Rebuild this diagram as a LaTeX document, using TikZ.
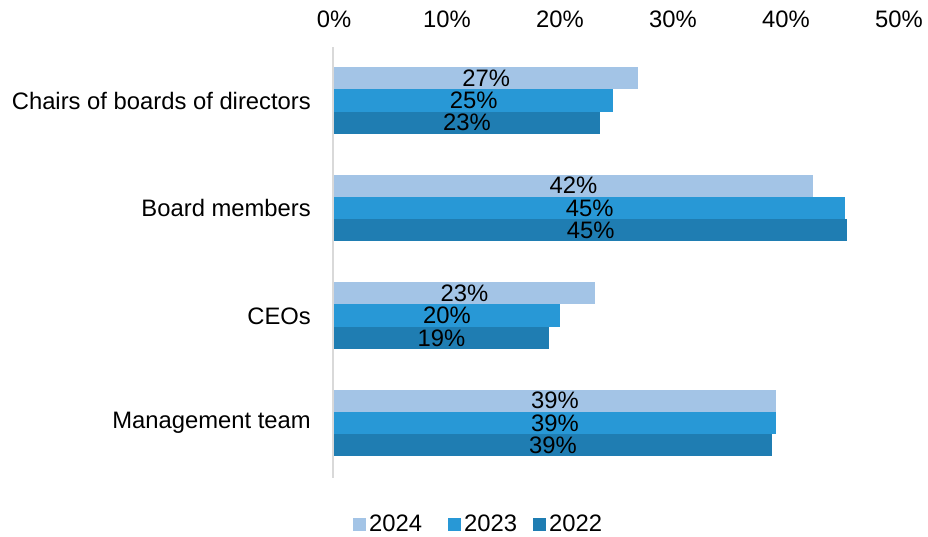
\documentclass[tikz,border=0pt]{standalone}
\usepackage{fontspec}
\setmainfont{Liberation Sans}
\usepackage[dvipsnames]{xcolor}
\usepackage{tikz}
\definecolor{c2024}{RGB}{163,196,230}
\definecolor{c2023}{RGB}{40,152,214}
\definecolor{c2022}{RGB}{31,125,178}
\definecolor{axisgray}{RGB}{217,217,217}

\begin{document}
\begin{tikzpicture}[x=1pt,y=-1pt,font=\fontsize{23.8}{28}\selectfont]
  \tikzstyle{bar}=[anchor=west, inner sep=0pt, minimum height=22.3pt]
  \tikzstyle{b24}=[bar, fill=c2024]
  \tikzstyle{b23}=[bar, fill=c2023]
  \tikzstyle{b22}=[bar, fill=c2022]
  \tikzstyle{cat}=[anchor=east, inner sep=0pt]
  \tikzstyle{tick}=[inner sep=0pt]
  \useasboundingbox (0,0) rectangle (928,536);

  % top axis labels
  \node[tick] (T_0) at (334,19) {0\%};
  \node[tick] (T_1) at (447,19) {10\%};
  \node[tick] (T_2) at (560,19) {20\%};
  \node[tick] (T_3) at (673,19) {30\%};
  \node[tick] (T_4) at (786,19) {40\%};
  \node[tick] (T_5) at (899,19) {50\%};

  \coordinate (A_top) at (333,47);
  \coordinate (A_bot) at (333,478);
  \draw[axisgray, line width=2pt] (A_top) -- (A_bot);

  % chairs of boards
  \node[b24, minimum width=303.8pt] (C_24) at (334,78.2)  {27\%};
  \node[b23, minimum width=279pt]   (C_23) at (334,100.5) {25\%};
  \node[b22, minimum width=265.5pt] (C_22) at (334,122.8) {23\%};

  % board members
  \node[b24, minimum width=478.3pt] (B_24) at (334,185.7) {42\%};
  \node[b23, minimum width=510.8pt] (B_23) at (334,208)   {45\%};
  \node[b22, minimum width=513pt]   (B_22) at (334,230.3) {45\%};

  % CEOs
  \node[b24, minimum width=260.5pt] (E_24) at (334,293.2) {23\%};
  \node[b23, minimum width=225.5pt] (E_23) at (334,315.5) {20\%};
  \node[b22, minimum width=214.5pt] (E_22) at (334,337.8) {19\%};

  % management team
  \node[b24, minimum width=441.3pt] (M_24) at (334,400.7) {39\%};
  \node[b23, minimum width=441.7pt] (M_23) at (334,423)   {39\%};
  \node[b22, minimum width=437.7pt] (M_22) at (334,445.3) {39\%};

  \node[cat] (L_C) at (311,101) {Chairs of boards of directors};
  \node[cat] (L_B) at (311,208) {Board members};
  \node[cat] (L_E) at (311,316) {CEOs};
  \node[cat] (L_M) at (311,423) {Management team};

  % legend
  \node[fill=c2024, minimum size=13pt, inner sep=0pt] (K_24) at (359.5,524) {};
  \node[anchor=west, inner sep=0pt] (K_24t) at (369,523) {2024};
  \node[fill=c2023, minimum size=13pt, inner sep=0pt] (K_23) at (454.5,524) {};
  \node[anchor=west, inner sep=0pt] (K_23t) at (464,523) {2023};
  \node[fill=c2022, minimum size=13pt, inner sep=0pt] (K_22) at (539.5,524) {};
  \node[anchor=west, inner sep=0pt] (K_22t) at (549,523) {2022};
\end{tikzpicture}
\end{document}
